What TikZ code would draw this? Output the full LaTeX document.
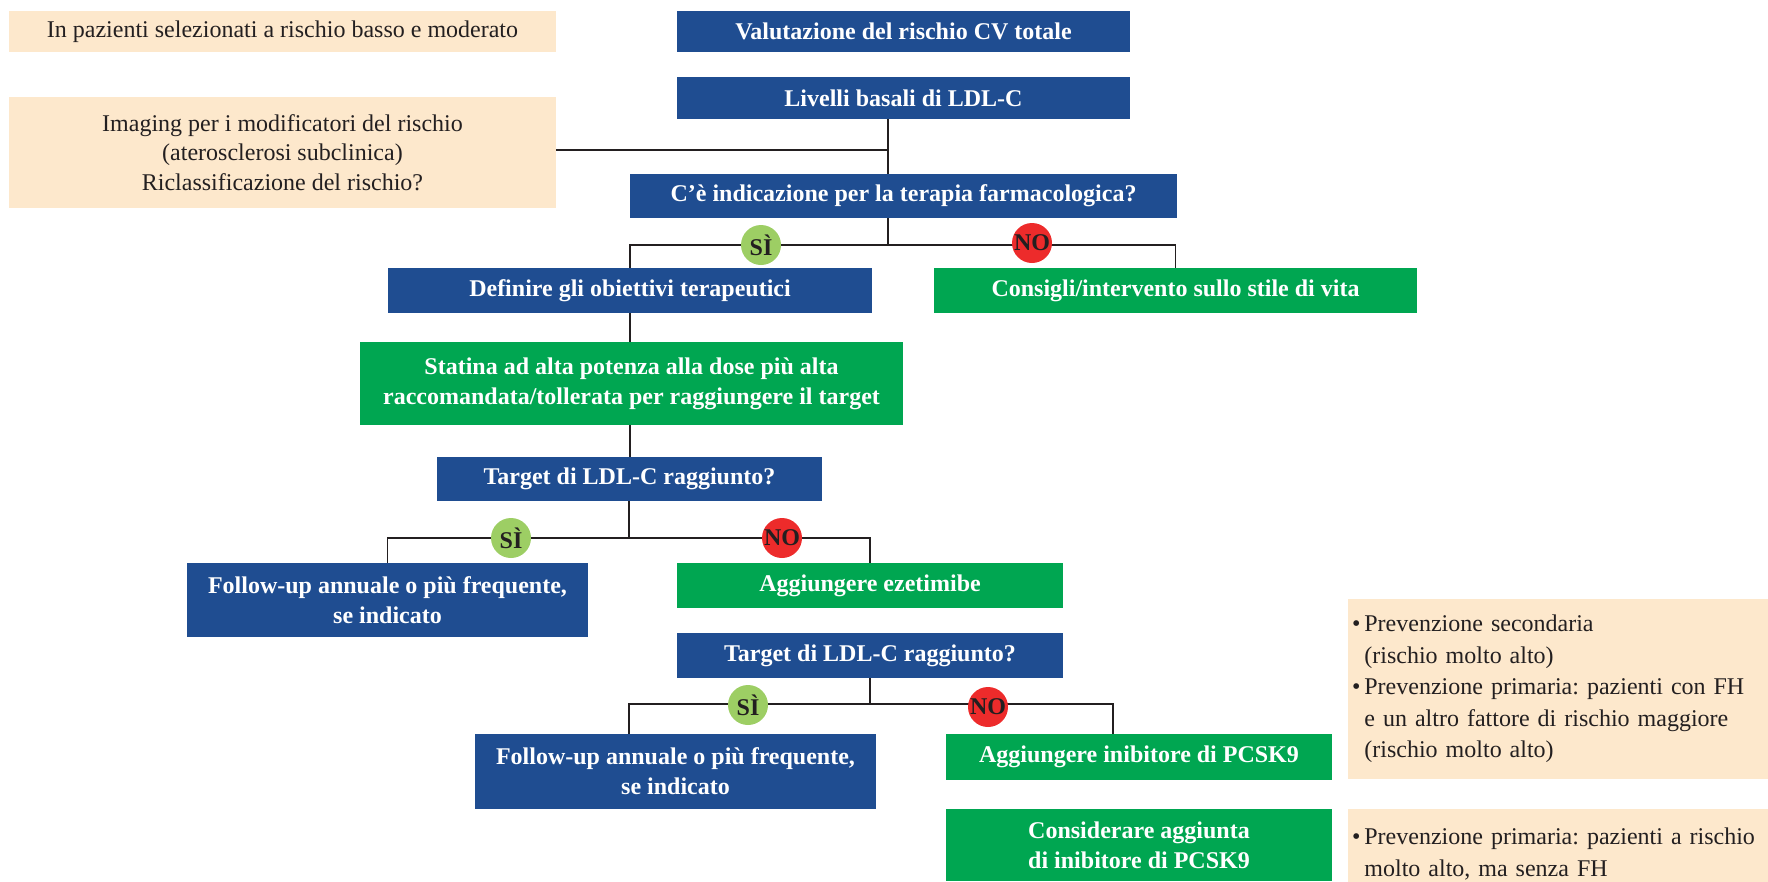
\documentclass[tikz,border=0pt]{standalone}
\usepackage{fontspec}
\setmainfont{Liberation Serif}
\usepackage{tikz}
\usetikzlibrary{calc}
\frenchspacing

\definecolor{boxblue}{RGB}{31,77,145}
\definecolor{boxgreen}{RGB}{0,166,81}
\definecolor{boxpeach}{RGB}{253,232,204}
\definecolor{sigreen}{RGB}{157,206,100}
\definecolor{nored}{RGB}{237,43,43}
\definecolor{inkgray}{RGB}{35,31,32}

\tikzset{
	bluebox/.style={fill=boxblue, text=white, inner sep=0pt, align=center, font=\fontsize{24}{30}\selectfont\bfseries},
	greenbox/.style={bluebox, fill=boxgreen},
	peachbox/.style={fill=boxpeach, text=inkgray, inner sep=0pt, align=center, font=\fontsize{24}{29.5}\selectfont},
	notebox/.style={peachbox, align=left, inner xsep=4pt, text width=412pt, font=\fontsize{24}{31.5}\selectfont},
	sibubble/.style={circle, fill=sigreen, minimum size=40pt, inner sep=0pt, text=inkgray, font=\fontsize{24}{24}\selectfont\bfseries},
	nobubble/.style={sibubble, fill=nored},
	link/.style={draw=inkgray, line width=1.8pt}
}

% box from its corners (x1,y1,x2,y2), y counted downwards
\def\boxat[#1](#2)(#3,#4,#5,#6)#7{\node[#1, minimum width={#5-#3}, minimum height={#6-#4}] (#2) at ({(#3+#5)/2},{(#4+#6)/2}) {#7};}
\def\nb{\hphantom{\textbullet\,}}

\begin{document}
\begin{tikzpicture}[x=1pt, y=-1pt]
		%%%%% START %%%%%
		\useasboundingbox (0,0) rectangle (1768,881);
		
		\boxat[peachbox](sel)(9,11,556,52){In pazienti selezionati a rischio basso e moderato}
		\boxat[peachbox](img)(9,97,556,208){Imaging per i modificatori del rischio\\(aterosclerosi subclinica)\\Riclassificazione del rischio?}
		
		\boxat[bluebox](val)(677,11,1130,52){Valutazione del rischio CV totale}
		\boxat[bluebox](liv)(677,77,1130,119){Livelli basali di LDL-C}
		\boxat[bluebox](ind)(630,174,1177,218){C’è indicazione per la terapia farmacologica?}
		
		\boxat[bluebox](def)(388,268,872,313){Definire gli obiettivi terapeutici}
		\boxat[greenbox](cons)(934,268,1417,313){Consigli/intervento sullo stile di vita}
		\boxat[greenbox](stat)(360,342,903,425){Statina ad alta potenza alla dose più alta\\raccomandata/tollerata per raggiungere il target}
		\boxat[bluebox](tgta)(437,457,822,501){Target di LDL-C raggiunto?}
		
		\boxat[bluebox](fola)(187,563,588,637){Follow-up annuale o più frequente,\\se indicato}
		\boxat[greenbox](eze)(677,563,1063,608){Aggiungere ezetimibe}
		\boxat[bluebox](tgtb)(677,633,1063,678){Target di LDL-C raggiunto?}
		
		\boxat[bluebox](folb)(475,734,876,809){Follow-up annuale o più frequente,\\se indicato}
		\boxat[greenbox](pcsk)(946,734,1332,780){Aggiungere inibitore di PCSK9}
		\boxat[greenbox](cpcsk)(946,809,1332,881){Considerare aggiunta\\di inibitore di PCSK9}
		
		\boxat[notebox](notea)(1348,599,1768,779){\textbullet\,Prevenzione secondaria\\\nb(rischio molto alto)\\\textbullet\,Prevenzione primaria: pazienti con FH\\\nb e un altro fattore di rischio maggiore\\\nb(rischio molto alto)}
		% runs past the page edge, as in the original
		\boxat[notebox](noteb)(1348,809,1768,899){\textbullet\,Prevenzione primaria: pazienti a rischio\\\nb molto alto, ma senza FH}
		
		% junctions
		\coordinate (ta) at (888,150);
		\coordinate (fa) at (888,245);
		\coordinate (fb) at (629,538);
		\coordinate (fc) at (870,704);
		\coordinate (fcl) at (629,704);
		\coordinate (fcr) at (1113,704);
		
		\draw[link] (liv.south -| ta) -- (ind.north -| ta);
		\draw[link] (img.east |- ta) -- (ta);
		
		\draw[link] (ind.south -| fa) -- (fa);
		\draw[link] (def.north) |- (fa) -| (cons.north);
		\draw[link] (def.south) -- (def.south |- stat.north);
		\draw[link] (stat.south -| def.south) -- (tgta.north -| def.south);
		
		\draw[link] (tgta.south -| fb) -- (fb);
		\draw[link] (fola.north) |- (fb) -| (eze.north);
		
		\draw[link] (tgtb.south -| fc) -- (fc);
		\draw[link] (folb.north -| fcl) -- (fcl) -- (fcr) -- (pcsk.north -| fcr);
		
		\node[sibubble] (sia) at (761,245) {SÌ};
		\node[nobubble] (noa) at (1032,243) {NO};
		\node[sibubble] (sib) at (511,538) {SÌ};
		\node[nobubble] (nob) at (782,538) {NO};
		\node[sibubble] (sic) at (748,705) {SÌ};
		\node[nobubble] (noc) at (988,707) {NO};
		
		%%%%% END %%%%%
	\end{tikzpicture}
\end{document}
